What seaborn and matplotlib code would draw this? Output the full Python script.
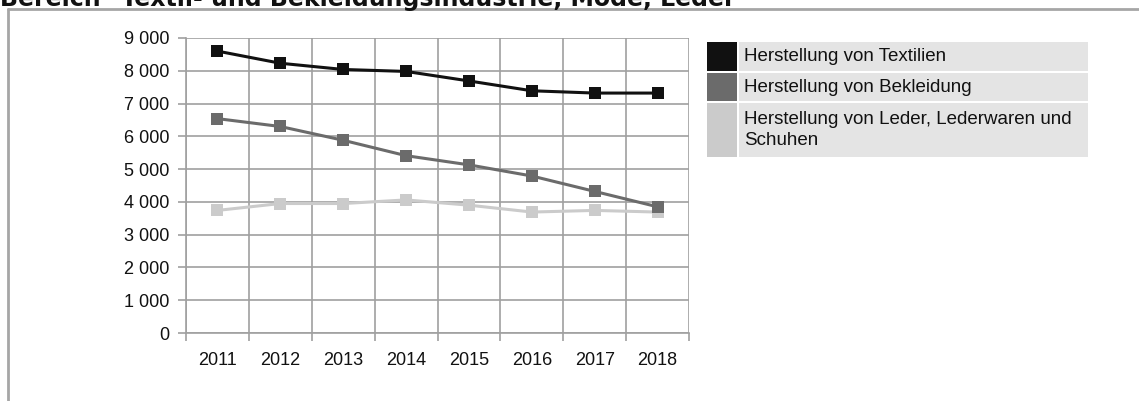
import matplotlib
matplotlib.use("Agg")
import matplotlib.pyplot as plt
import seaborn as sns
import pandas as pd
import numpy as np
from matplotlib.patches import Rectangle
from matplotlib.lines import Line2D
from matplotlib.ticker import FuncFormatter, FixedLocator

years = ["2011", "2012", "2013", "2014", "2015", "2016", "2017", "2018"]
textilien = [8600, 8230, 8040, 7980, 7690, 7390, 7320, 7320]
bekleidung = [6540, 6300, 5880, 5410, 5130, 4790, 4320, 3850]
leder = [3740, 3950, 3950, 4060, 3900, 3690, 3740, 3690]
series_names = ["Herstellung von Textilien", "Herstellung von Bekleidung",
                "Herstellung von Leder, Lederwaren und\nSchuhen"]
colors = ["#111111", "#6b6b6b", "#cbcbcb"]
title = "Bereich \"Textil- und Bekleidungsindustrie, Mode, Leder\""

sns.set_theme(style="white")
plt.rcParams["font.family"] = ["Liberation Sans", "DejaVu Sans"]

W, H = 1139, 401
fig = plt.figure(figsize=(W / 100, H / 100), dpi=100)
fig.patch.set_facecolor("white")

def fx(x):
    return x / W

def fy(y):
    return 1 - y / H

ax = fig.add_axes([fx(186), fy(333), fx(689) - fx(186), fy(38) - fy(333)])

rows = []
for name, vals in zip(series_names, [textilien, bekleidung, leder]):
    for i, (yr, v) in enumerate(zip(years, vals)):
        rows.append({"pos": i, "year": yr, "value": v, "series": name})
df = pd.DataFrame(rows)

# draw in reverse so Textilien is on top
for name, col in list(zip(series_names, colors))[::-1]:
    sub = df[df["series"] == name]
    sns.lineplot(data=sub, x="pos", y="value", ax=ax, color=col, lw=2.2,
                 marker="s", markersize=9, markeredgewidth=0,
                 markeredgecolor=col, legend=False, zorder=3)

ax.set_xlim(-0.5, len(years) - 0.5)
ax.set_ylim(0, 9000)
ax.set_xlabel("")
ax.set_ylabel("")

ax.xaxis.set_major_locator(FixedLocator(range(len(years))))
ax.set_xticklabels(years)
ax.xaxis.set_minor_locator(FixedLocator(np.arange(-0.5, len(years), 1.0)))
ax.set_yticks(np.arange(0, 9001, 1000))
ax.yaxis.set_major_formatter(FuncFormatter(lambda v, p: f"{int(v):,}".replace(",", " ")))

ax.tick_params(axis="x", which="major", length=0, pad=14, labelsize=13, colors="#111111")
ax.tick_params(axis="x", which="minor", length=6, width=1.2, color="#a0a0a0", bottom=True)
ax.tick_params(axis="y", which="major", length=6, width=1.2, color="#a0a0a0", left=True,
               pad=6, labelsize=13, labelcolor="#111111")

ax.grid(False)
ax.grid(True, which="minor", axis="x", color="#a0a0a0", lw=1.2)
ax.grid(True, which="major", axis="y", color="#a0a0a0", lw=1.2)
for s in ["top", "right"]:
    ax.spines[s].set_visible(False)
for s in ["left", "bottom"]:
    ax.spines[s].set_color("#a0a0a0")
    ax.spines[s].set_linewidth(1.2)
ax.set_axisbelow(True)

# frame around chart
fig.add_artist(Line2D([fx(8), fx(8)], [fy(9), 0], color="#a6a6a6", lw=2))
fig.add_artist(Line2D([fx(8), 1], [fy(9), fy(9)], color="#a6a6a6", lw=2))

# title (cut at top)
fig.text(fx(0), fy(6), title, fontsize=17, fontweight="bold", color="#111111",
         family="DejaVu Sans", va="baseline", ha="left")

# legend
leg_rows = [(42, 71), (73, 101), (103, 157)]
for (y0, y1), name, col in zip(leg_rows, series_names, colors):
    fig.add_artist(Rectangle((fx(707), fy(y1)), fx(737) - fx(707), fy(y0) - fy(y1),
                             facecolor=col, edgecolor="none", transform=fig.transFigure))
    fig.add_artist(Rectangle((fx(739), fy(y1)), fx(1088) - fx(739), fy(y0) - fy(y1),
                             facecolor="#e4e4e4", edgecolor="none", transform=fig.transFigure))
    fig.text(fx(744), fy((y0 + y1) / 2), name, fontsize=13.5, color="#111111",
             va="center", ha="left", linespacing=1.3)

fig.savefig("out.png", dpi=100, facecolor="white")
